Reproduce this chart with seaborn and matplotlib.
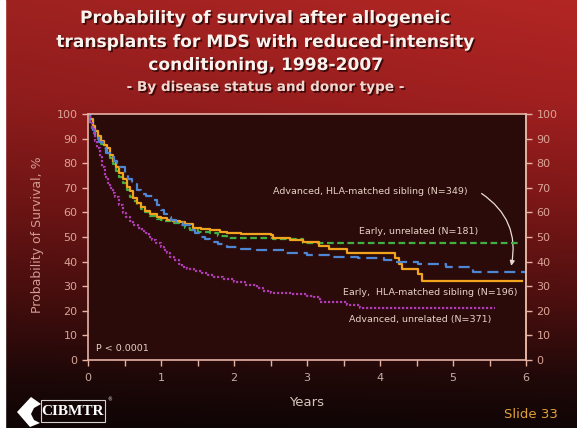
import numpy as np
import pandas as pd
import matplotlib
matplotlib.use("Agg")
import matplotlib.pyplot as plt
import matplotlib.patheffects as pe
from matplotlib.patches import FancyArrowPatch, Polygon, Rectangle
import seaborn as sns

# Kaplan-Meier survival estimates (years, % surviving)
early_sib_t = [0, 0.03, 0.07, 0.10, 0.14, 0.18, 0.22, 0.26, 0.30, 0.34, 0.39, 0.43, 0.48,
               0.53, 0.57, 0.62, 0.67, 0.72, 0.78, 0.85, 0.94, 1.00, 1.08, 1.17, 1.26,
               1.33, 1.44, 1.55, 1.67, 1.81, 1.90, 2.10, 2.50, 2.54, 2.77, 2.95,
               3.16, 3.30, 3.55, 4.20, 4.26, 4.30, 4.52, 4.58, 5.95]
early_sib_s = [100, 98, 95, 93, 91, 89, 87.5, 86, 83.5, 81, 78.5, 76, 73.5,
               70.5, 68.5, 66, 63.7, 62, 60.5, 59.2, 58.2, 57.6, 57, 56.5, 56,
               55.2, 53.8, 53.3, 52.8, 52.2, 51.5, 51.1, 50.8, 49.5, 48.8, 48.1,
               46.5, 45, 43.5, 41.6, 39.2, 36.8, 34.8, 32.1, 32.1]

early_unrel_t = [0, 0.03, 0.07, 0.10, 0.14, 0.18, 0.22, 0.26, 0.30, 0.34, 0.39, 0.43, 0.48,
                 0.53, 0.58, 0.62, 0.67, 0.72, 0.78, 0.85, 0.94, 1.00, 1.05, 1.15, 1.26,
                 1.33, 1.40, 1.50, 1.67, 1.78, 1.90, 2.54, 2.95, 5.93]
early_unrel_s = [100, 97.5, 94, 92, 90, 88, 86.3, 84.5, 82, 79.5, 77, 74.5, 72,
                 69, 66.4, 64.7, 63, 61.4, 60, 58.6, 57.5, 56.9, 56.4, 55.8, 55,
                 53.8, 52.8, 52.1, 51.5, 50.5, 49.5, 49, 47.7, 47.7]

adv_sib_t = [0, 0.03, 0.07, 0.10, 0.15, 0.20, 0.25, 0.30, 0.35, 0.40, 0.44, 0.50, 0.55,
             0.60, 0.67, 0.73, 0.80, 0.90, 0.95, 1.00, 1.04, 1.08, 1.14, 1.20, 1.30,
             1.40, 1.47, 1.54, 1.60, 1.67, 1.78, 1.90, 2.10, 2.31, 2.68, 3.00, 3.30,
             3.70, 4.06, 4.20, 4.52, 4.90, 5.28, 6.00]
adv_sib_s = [100, 96, 93.5, 91.5, 88.5, 86, 84, 82.5, 81, 80, 78.6, 76, 73.5,
             71.5, 69, 67.5, 66.5, 65, 63, 61, 59.5, 58.3, 57, 56, 54.8,
             53, 51.5, 50, 49, 48.1, 47, 46, 45.2, 44.7, 43.6, 42.7, 42,
             41.3, 40.6, 39.8, 39, 37.7, 35.9, 35.9]

adv_unrel_t = [0, 0.03, 0.05, 0.08, 0.10, 0.13, 0.16, 0.19, 0.23, 0.27, 0.30, 0.34, 0.37,
               0.42, 0.48, 0.52, 0.57, 0.62, 0.68, 0.74, 0.80, 0.84, 0.87, 0.93, 1.00,
               1.04, 1.08, 1.13, 1.18, 1.24, 1.29, 1.35, 1.45, 1.56, 1.64, 1.72, 1.85,
               2.00, 2.15, 2.31, 2.40, 2.50, 2.80, 3.00, 3.09, 3.18, 3.55, 3.72, 5.58]
adv_unrel_s = [100, 96.5, 94.5, 91.5, 89, 86, 82.6, 78.5, 74.5, 72, 70, 68, 66.4,
               63, 59.6, 58, 56.5, 55, 53.5, 52.5, 51.5, 50, 48.8, 47.5, 46,
               44.6, 43.4, 42, 40.5, 39.2, 37.9, 37, 36.3, 35.2, 34.5, 33.9, 33,
               31.8, 30.5, 29.1, 28.2, 27.4, 26.8, 26.2, 25.7, 23.7, 22.4, 21.3, 21.3]

groups = ["Early, unrelated", "Early, HLA-matched sibling",
          "Advanced, HLA-matched sibling", "Advanced, unrelated"]
times = [early_unrel_t, early_sib_t, adv_sib_t, adv_unrel_t]
survs = [early_unrel_s, early_sib_s, adv_sib_s, adv_unrel_s]

labels = ["Advanced, HLA-matched sibling (N=349)", "Early, unrelated (N=181)",
          "Early,  HLA-matched sibling (N=196)", "Advanced, unrelated (N=371)"]
y_ticks = list(range(0, 101, 10))
x_ticks = list(range(0, 7))

df = pd.concat([pd.DataFrame({"years": t, "surv": s, "group": g})
                for g, t, s in zip(groups, times, survs)], ignore_index=True)

palette = {"Early, unrelated": "#3fb041",
           "Early, HLA-matched sibling": "#f2a41e",
           "Advanced, HLA-matched sibling": "#4f86d4",
           "Advanced, unrelated": "#b03cb4"}
dashes = {"Early, unrelated": (3, 1.6),
          "Early, HLA-matched sibling": "",
          "Advanced, HLA-matched sibling": (5, 2.6),
          "Advanced, unrelated": (1, 0.8)}

W, H = 577, 428
fig = plt.figure(figsize=(W / 100, H / 100), dpi=100)

# full-slide background with a red-to-black gradient
bg = fig.add_axes([0, 0, 1, 1], zorder=0)
bg.set_xlim(0, W)
bg.set_ylim(H, 0)
bg.axis("off")
ys = np.array([0, 100, 200, 300, 380, 428])
cols = np.array([[168, 36, 34], [152, 30, 30], [118, 22, 22],
                 [72, 14, 14], [30, 8, 8], [16, 5, 5]]) / 255
yy = np.linspace(0, H, 300)
grad = np.stack([np.interp(yy, ys, cols[:, k]) for k in range(3)], axis=-1)
xx = np.linspace(0, 1, 200)
side = 1 + 0.12 * (xx - 0.5)
img = np.clip(grad[:, None, :] * side[None, :, None], 0, 1)
bg.imshow(img, extent=[5, W, H, 0], aspect="auto", interpolation="bilinear")
bg.add_patch(Rectangle((0, 0), 5, H, color="white"))

# logo
bg.add_patch(Polygon([[17, 412], [31, 397], [41, 404], [34, 408], [31, 414],
                      [34, 420], [40, 423], [30, 427]], closed=True,
                     facecolor="white", edgecolor="none"))
bg.add_patch(Rectangle((41, 400), 64, 22, fill=False, edgecolor="#d8d0d0", lw=0.8))
bg.text(73, 411.5, "CIBMTR", color="white", fontsize=11, fontweight="bold",
        family="Liberation Serif", ha="center", va="center")
bg.text(107, 400, "®", color="white", fontsize=3.5, ha="left", va="center")
bg.text(531, 414, "Slide 33", color="#e0a03a", fontsize=9.5, ha="center", va="center")

# title
shadow = [pe.withSimplePatchShadow(offset=(1.2, -1.2), shadow_rgbFace="#2a0505", alpha=0.85)]
for txt, y in [("Probability of survival after allogeneic", 18),
               ("transplants for MDS with reduced-intensity", 42),
               ("conditioning, 1998-2007", 65)]:
    bg.text(266, y, txt, color="#fbf2ee", fontsize=12.3, fontweight="bold",
            ha="center", va="center", path_effects=shadow)
bg.text(266, 87, "- By disease status and donor type -", color="#f0d8d0", fontsize=9.8,
        fontweight="bold", ha="center", va="center", path_effects=shadow)

# survival plot
ax = fig.add_axes([88 / W, 1 - 360 / H, (526 - 88) / W, (360 - 114) / H], zorder=1)
ax.set_facecolor("#2a0b09")
sns.lineplot(data=df, x="years", y="surv", hue="group", style="group",
             palette=palette, dashes=dashes, drawstyle="steps-post",
             estimator=None, sort=False, linewidth=1.6, legend=False, ax=ax)
ax.set_xlim(0, 6)
ax.set_ylim(0, 100)
ax.set_xticks(x_ticks)
ax.set_xticks(np.arange(0.5, 6, 1.0), minor=True)
ax.set_yticks(y_ticks)
spine_c = "#e6b2a4"
for s in ax.spines.values():
    s.set_color(spine_c)
    s.set_linewidth(1.2)
ax.tick_params(axis="both", which="both", colors=spine_c, direction="out",
               length=4.5, width=1)
ax.tick_params(axis="y", labelcolor="#d9a496", labelsize=8, pad=3)
ax.tick_params(axis="x", labelcolor="#c9aca4", labelsize=8, pad=5)
ax.set_xlabel("")
ax.set_ylabel("")

ax2 = ax.twinx()
ax2.set_ylim(0, 100)
ax2.set_yticks(y_ticks)
for s in ax2.spines.values():
    s.set_visible(False)
ax2.spines["right"].set_visible(True)
ax2.spines["right"].set_color(spine_c)
ax2.spines["right"].set_linewidth(1.2)
ax2.tick_params(axis="y", colors=spine_c, labelcolor="#d9a496", labelsize=8,
                direction="out", length=4.5, width=1, pad=3)

fig.text(38 / W, 1 - 235 / H, "Probability of Survival, %", rotation=90,
         color="#d29a92", fontsize=9, ha="center", va="center")
fig.text(307 / W, 1 - 403 / H, "Years", color="#d4c4bc", fontsize=9.5,
         ha="center", va="center")

# curve labels
tc = "#e8d2c8"
ax.text(3.87, 68.3, labels[0], color=tc, fontsize=6.8, ha="center", va="center")
ax.text(4.53, 52.2, labels[1], color=tc, fontsize=6.8, ha="center", va="center")
ax.text(4.69, 27.6, labels[2], color=tc, fontsize=6.8, ha="center", va="center")
ax.text(4.55, 16.3, labels[3], color=tc, fontsize=6.8, ha="center", va="center")
ax.text(0.11, 4.5, "P < 0.0001", color=tc, fontsize=6.8, ha="left", va="center")
ax.add_patch(FancyArrowPatch((5.36, 68.3), (5.79, 37.2),
                             connectionstyle="arc3,rad=-0.35", arrowstyle="-|>",
                             mutation_scale=7, color="#eadcd4", lw=0.9))

fig.savefig("out.png", dpi=100, facecolor="black")
